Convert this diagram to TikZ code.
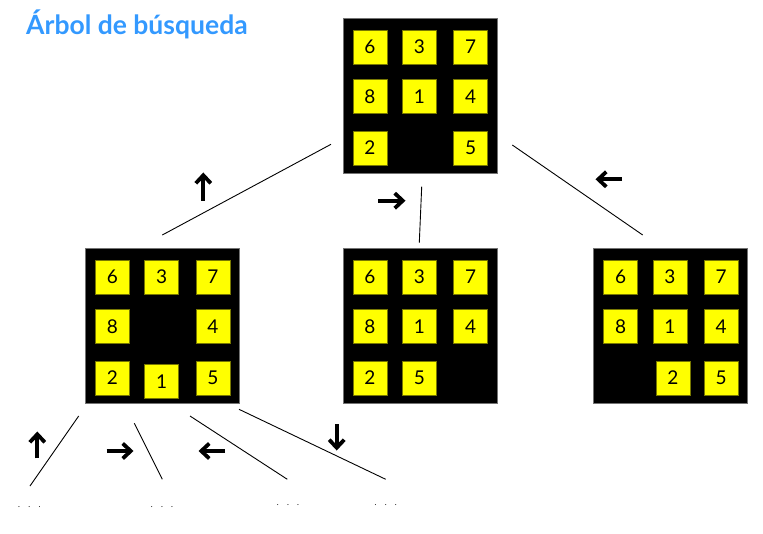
\documentclass[tikz,border=0pt]{standalone}
\usepackage{fontspec}
\setmainfont{Lato}
\usetikzlibrary{calc,arrows.meta}
\definecolor{titleblue}{RGB}{51,153,255}
\definecolor{tileyellow}{RGB}{255,255,0}
\definecolor{tileedge}{RGB}{120,120,0}
\tikzset{
 board/.style={fill=black, draw=black!55, line width=0.5pt, minimum width=154pt, minimum height=155pt, inner sep=0pt, anchor=north west},
 tile/.style={fill=tileyellow, draw=tileedge, line width=0.6pt, minimum width=34pt, minimum height=34pt, inner sep=0pt, anchor=north west, font=\fontsize{19}{19}\selectfont},
 treeedge/.style={line width=0.9pt},
 movearrow/.style={line width=3.8pt, -{Straight Barb[length=8pt,width=15pt]}},
 dotsnode/.style={inner sep=0pt, anchor=base, font=\fontsize{8}{8}\selectfont},
 titlenode/.style={inner sep=0pt, anchor=base west, text=titleblue, font=\fontsize{26.5}{26.5}\selectfont\bfseries}
}
\newcommand\tileat[4]{\node[tile] (#1t#4) at ($(#1.north west)+(#2,#3)$) {#4};}
\newcommand\dotstext{.\hspace{8.3pt}.\hspace{8.3pt}.}
\begin{document}
\begin{tikzpicture}[x=1pt,y=-1pt]
\useasboundingbox[fill=white] (0,0) rectangle (763,534);
\node[titlenode] (title) at (26,35) {Árbol de búsqueda};
% boards
\node[board] (b0) at (342.7,18.3) {};
\node[board] (b1) at (85,248.3) {};
\node[board] (b2) at (342.7,248.3) {};
\node[board] (b3) at (593.3,248.3) {};
% top board
\tileat{b0}{10}{11.5}{6}\tileat{b0}{59.3}{11.5}{3}\tileat{b0}{110.6}{11.5}{7}
\tileat{b0}{10}{61}{8}\tileat{b0}{59.3}{61}{1}\tileat{b0}{110.6}{61}{4}
\tileat{b0}{10}{112.4}{2}\tileat{b0}{110.6}{112.4}{5}
% left board
\tileat{b1}{10}{11.5}{6}\tileat{b1}{59.3}{11.5}{3}\tileat{b1}{110.6}{11.5}{7}
\tileat{b1}{10}{61}{8}\tileat{b1}{110.6}{61}{4}
\tileat{b1}{10}{112.4}{2}\tileat{b1}{59.3}{115.7}{1}\tileat{b1}{110.6}{112.4}{5}
% middle board
\tileat{b2}{10}{11.5}{6}\tileat{b2}{59.3}{11.5}{3}\tileat{b2}{110.6}{11.5}{7}
\tileat{b2}{10}{61}{8}\tileat{b2}{59.3}{61}{1}\tileat{b2}{110.6}{61}{4}
\tileat{b2}{10}{112.4}{2}\tileat{b2}{59.3}{112.4}{5}
% right board
\tileat{b3}{10}{11.5}{6}\tileat{b3}{59.3}{11.5}{3}\tileat{b3}{110.6}{11.5}{7}
\tileat{b3}{10}{61}{8}\tileat{b3}{59.3}{61}{1}\tileat{b3}{110.6}{61}{4}
\tileat{b3}{62.4}{112.4}{2}\tileat{b3}{110.6}{112.4}{5}
% dots
\node[dotsnode] (d1) at (29.3,507.4) {\dotstext};
\node[dotsnode] (d2) at (162,507.4) {\dotstext};
\node[dotsnode] (d3) at (288,505.4) {\dotstext};
\node[dotsnode] (d4) at (385.7,505.4) {\dotstext};
% edge end points
\coordinate (e1a) at (331,144.3); \coordinate (e1b) at (162.3,235);
\coordinate (e2a) at (421.7,186.7); \coordinate (e2b) at (419.3,242.7);
\coordinate (e3a) at (512.3,145); \coordinate (e3b) at (642.7,235);
\coordinate (e4a) at (78.7,416); \coordinate (e4b) at (30,486);
\coordinate (e5a) at (134.3,423.3); \coordinate (e5b) at (162.3,479.3);
\coordinate (e6a) at (190,416); \coordinate (e6b) at (287.3,479.3);
\coordinate (e7a) at (239,409.3); \coordinate (e7b) at (385.7,479.3);
\draw[treeedge] (e1a) -- (e1b);
\draw[treeedge] (e2a) -- (e2b);
\draw[treeedge] (e3a) -- (e3b);
\draw[treeedge] (e4a) -- (e4b);
\draw[treeedge] (e5a) -- (e5b);
\draw[treeedge] (e6a) -- (e6b);
\draw[treeedge] (e7a) -- (e7b);
% move arrows
\coordinate (a1s) at (203.3,200.7); \coordinate (a1e) at (203.3,172.5);
\coordinate (a2s) at (378,200.7); \coordinate (a2e) at (405.5,200.7);
\coordinate (a3s) at (622,179.3); \coordinate (a3e) at (595.5,179.3);
\coordinate (a4s) at (37.3,458.3); \coordinate (a4e) at (37.3,431.5);
\coordinate (a5s) at (106.7,451); \coordinate (a5e) at (133.5,451);
\coordinate (a6s) at (225,451); \coordinate (a6e) at (198.5,451);
\coordinate (a7s) at (336.7,424); \coordinate (a7e) at (336.7,450.5);
\draw[movearrow] (a1s) -- (a1e);
\draw[movearrow] (a2s) -- (a2e);
\draw[movearrow] (a3s) -- (a3e);
\draw[movearrow] (a4s) -- (a4e);
\draw[movearrow] (a5s) -- (a5e);
\draw[movearrow] (a6s) -- (a6e);
\draw[movearrow] (a7s) -- (a7e);
\end{tikzpicture}
\end{document}
